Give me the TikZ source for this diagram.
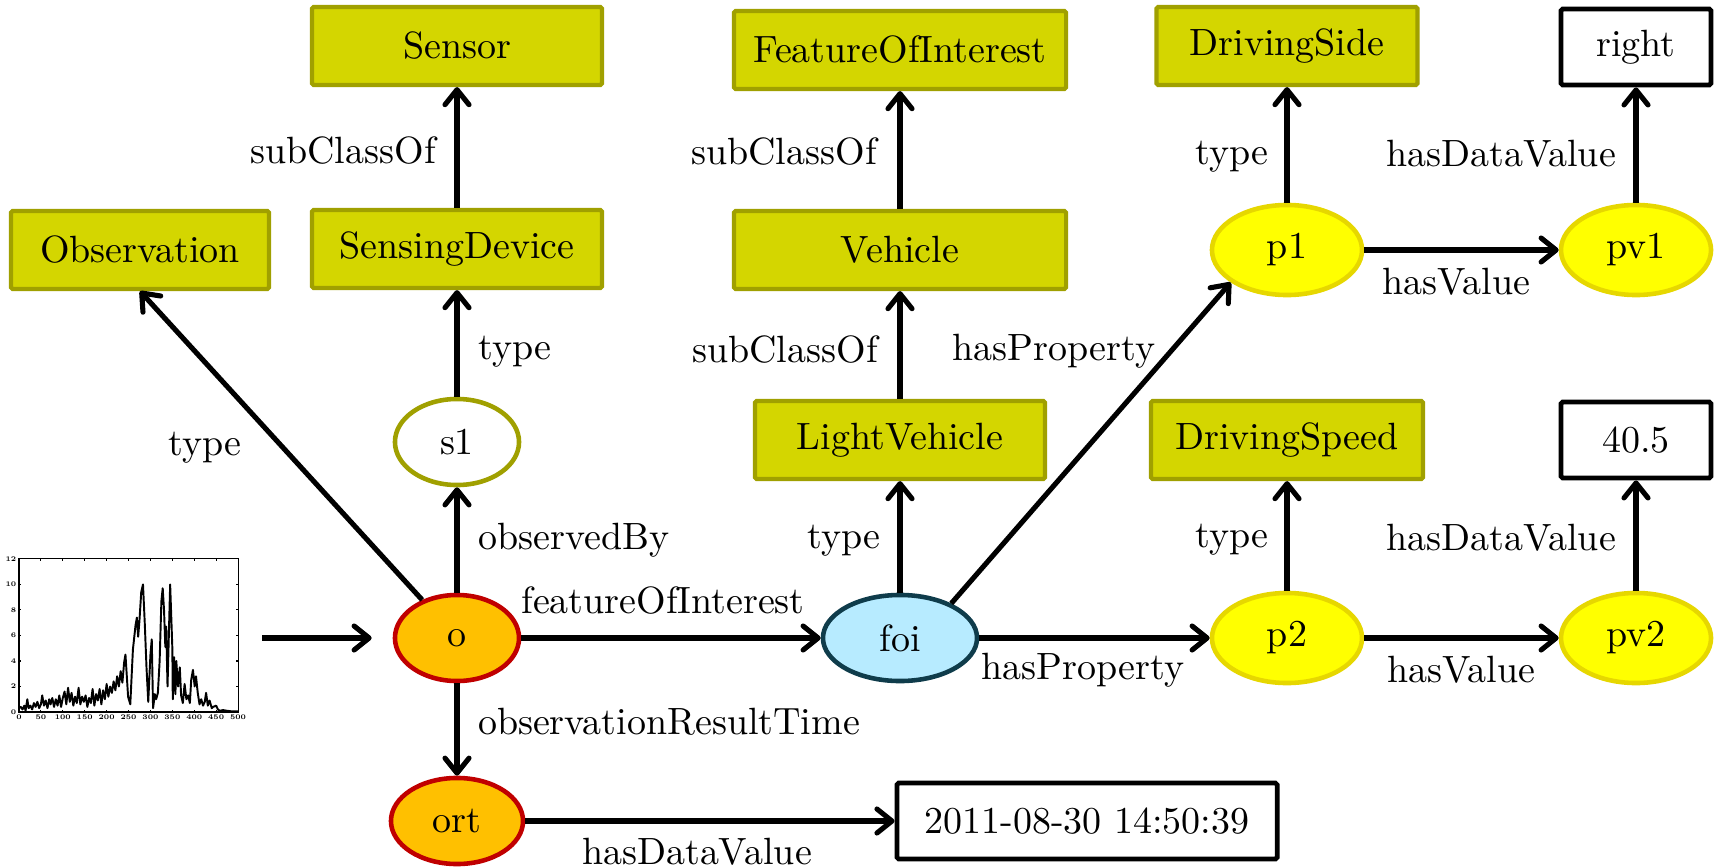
\documentclass[tikz,border=0pt]{standalone}
\usetikzlibrary{arrows.meta,shapes.geometric}

\definecolor{classfill}{RGB}{212,214,0}
\definecolor{classdraw}{RGB}{160,160,0}
\definecolor{obsfill}{RGB}{255,192,0}
\definecolor{obsdraw}{RGB}{192,0,0}
\definecolor{foifill}{RGB}{183,235,255}
\definecolor{foidraw}{RGB}{15,60,75}
\definecolor{propfill}{RGB}{255,255,0}
\definecolor{propdraw}{RGB}{230,215,0}

\tikzset{
    classbox/.style={draw=classdraw, fill=classfill, line width=1.2pt,
        rounded corners=0.5pt, minimum height=0.78cm},
    litbox/.style={draw=black, fill=white, line width=1.35pt,
        rounded corners=0.5pt, minimum height=0.76cm},
    inst/.style={ellipse, line width=1.3pt, inner sep=0pt,
        minimum width=1.24cm, minimum height=0.86cm},
    obs/.style={inst, draw=obsdraw, fill=obsfill},
    prop/.style={inst, draw=propdraw, fill=propfill,
        minimum width=1.5cm, minimum height=0.9cm},
    rel/.style={line width=1.45pt, -{Straight Barb[length=1.5mm,width=2.4mm,round]}},
    lbl/.style={inner sep=0pt},
    tick/.style={inner sep=0.6pt, font=\fontsize{2}{2}\selectfont\bfseries}
}

\begin{document}
\begin{tikzpicture}[x=0.01cm, y=-0.01cm, font=\fontsize{10.8}{13}\selectfont]
    \useasboundingbox (0,0) rectangle (1715,867);

    % the measured signal
    \begin{scope}[shift={(19,712)}, x=0.00438cm, y=0.1275cm]
        \draw[line width=0.3pt] (0,0) rectangle (500,12);
        \foreach \t in {0,50,...,500} {
            \draw[line width=0.3pt] (\t,0) -- (\t,0.15) (\t,12) -- (\t,11.85);
            \node[tick, below] (xt\t) at (\t,0) {\t};
        }
        \foreach \v in {0,2,...,12} {
            \draw[line width=0.3pt] (0,\v) -- (5,\v) (500,\v) -- (495,\v);
            \node[tick, left] (yt\v) at (0,\v) {\v};
        }
        \draw[line width=0.55pt, line join=round] plot coordinates {
            (0,0.3) (4,0.4) (8,0.2) (12,0.5) (15,0.1) (19,1.0) (22,0.3) (26,0.5)
            (30,0.2) (34,0.7) (38,0.4) (42,0.8) (46,0.3) (50,0.6) (53,1.3) (57,0.5)
            (61,0.9) (65,0.3) (69,1.0) (72,0.6) (76,1.1) (80,0.4) (84,1.0) (88,0.5)
            (92,1.3) (96,0.4) (100,1.1) (104,1.6) (108,0.6) (112,1.9) (116,0.8)
            (120,1.5) (124,0.5) (128,1.2) (132,0.7) (136,1.9) (140,0.6) (144,1.2)
            (148,0.8) (152,1.3) (156,0.4) (160,1.1) (164,0.7) (168,1.8) (172,0.5)
            (176,1.4) (180,0.9) (184,1.8) (188,0.6) (192,1.7) (196,1.0) (200,2.2)
            (204,1.2) (208,2.0) (212,1.5) (216,2.4) (220,1.7) (224,2.8) (228,2.0)
            (232,3.2) (236,2.3) (240,3.9) (243,4.5) (249,1.2) (254,0.6) (260,4.9)
            (266,6.8) (269,7.4) (272,5.9) (275,7.2) (279,9.4) (283,10) (287,7)
            (291,3.5) (295,0.8) (300,4.5) (303,5.7) (306,0.3) (310,1.4) (313,1.0)
            (317,1.5) (321,4) (325,8.7) (328,9.7) (331,8) (334,5.1) (336,6.7)
            (339,2) (342,6) (345,10) (350,5) (351,1.0) (354,4.3) (357,1.4) (359,4)
            (363,2) (367,3.5) (370,1.3) (374,0.7) (378,2.2) (382,1.0) (386,1.3)
            (390,0.7) (393,2.5) (397,3.3) (401,2) (404,2.8) (408,1.5) (412,0.6)
            (416,1.0) (420,0.5) (424,0.8) (427,1.5) (431,0.5) (435,0.9) (440,0.3)
            (443,0.4) (450,0.5) (454,0.2) (458,0.1) (466,0.15) (474,0.1) (486,0.05)
            (500,0.05)};
    \end{scope}
    \coordinate (sigout) at (262,638);

    % classes
    \node[classbox, minimum width=2.9cm] (Sensor) at (457,46) {Sensor};
    \node[classbox, minimum width=2.9cm] (SensingDevice) at (457,249) {SensingDevice};
    \node[classbox, minimum width=2.58cm] (Observation) at (140,250) {Observation};
    \node[classbox, minimum width=3.32cm] (FoI) at (900,50) {FeatureOfInterest};
    \node[classbox, minimum width=3.32cm] (Vehicle) at (900,250) {Vehicle};
    \node[classbox, minimum width=2.9cm] (LightVehicle) at (900,440) {LightVehicle};
    \node[classbox, minimum width=2.61cm] (DrivingSide) at (1287,46) {DrivingSide};
    \node[classbox, minimum width=2.72cm] (DrivingSpeed) at (1287,440) {DrivingSpeed};

    % literals
    \node[litbox, minimum width=1.5cm] (litright) at (1636,47) {right};
    \node[litbox, minimum width=1.5cm] (litspeed) at (1636,440) {40.5};
    \node[litbox, minimum width=3.8cm] (littime) at (1087,821) {2011-08-30 14:50:39};

    % individuals
    \node[inst, draw=classdraw, fill=white] (s1) at (457,442) {s1};
    \node[obs] (o) at (457,638) {o};
    \node[obs, minimum width=1.32cm] (ort) at (457,821) {ort};
    \node[inst, draw=foidraw, fill=foifill, minimum width=1.54cm] (foi) at (900,638) {foi};
    \node[prop] (p1) at (1287,250) {p1};
    \node[prop] (pv1) at (1636,250) {pv1};
    \node[prop] (p2) at (1287,638) {p2};
    \node[prop] (pv2) at (1636,638) {pv2};

    % relations
    \draw[rel, shorten >=0.21cm] (sigout) -- (o.west);
    \draw[rel] (SensingDevice) -- (Sensor);
    \draw[rel] (s1) -- (SensingDevice);
    \draw[rel] (o) -- (s1);
    \draw[rel] (o) -- (Observation.south);
    \draw[rel] (o) -- (foi);
    \draw[rel] (o) -- (ort);
    \draw[rel] (ort) -- (littime);
    \draw[rel] (foi) -- (LightVehicle);
    \draw[rel] (LightVehicle) -- (Vehicle);
    \draw[rel] (Vehicle) -- (FoI);
    \draw[rel] (foi.34) -- (p1.210);
    \draw[rel] (foi) -- (p2);
    \draw[rel] (p1) -- (DrivingSide);
    \draw[rel] (p1) -- (pv1);
    \draw[rel] (pv1) -- (litright);
    \draw[rel] (p2) -- (DrivingSpeed);
    \draw[rel] (p2) -- (pv2);
    \draw[rel] (pv2) -- (litspeed);

    % relation labels
    \node[lbl] (lSensor) at (343,151) {subClassOf};
    \node[lbl] (lDevice) at (515,352) {type};
    \node[lbl] (lObs) at (205,448) {type};
    \node[lbl] (lObsBy) at (574,540) {observedBy};
    \node[lbl] (lFoi) at (663,601) {featureOfInterest};
    \node[lbl] (lTime) at (669,722) {observationResultTime};
    \node[lbl] (lTimeVal) at (697,852) {hasDataValue};
    \node[lbl] (lLight) at (844,541) {type};
    \node[lbl] (lVehicle) at (785,350) {subClassOf};
    \node[lbl] (lFoIClass) at (784,152) {subClassOf};
    \node[lbl] (lProp1) at (1054,351) {hasProperty};
    \node[lbl] (lProp2) at (1083,670) {hasProperty};
    \node[lbl] (lSide) at (1232,157) {type};
    \node[lbl] (lRight) at (1501,154) {hasDataValue};
    \node[lbl] (lVal1) at (1456,282) {hasValue};
    \node[lbl] (lSpeed) at (1232,540) {type};
    \node[lbl] (lSpeedVal) at (1501,538) {hasDataValue};
    \node[lbl] (lVal2) at (1461,670) {hasValue};
\end{tikzpicture}
\end{document}
